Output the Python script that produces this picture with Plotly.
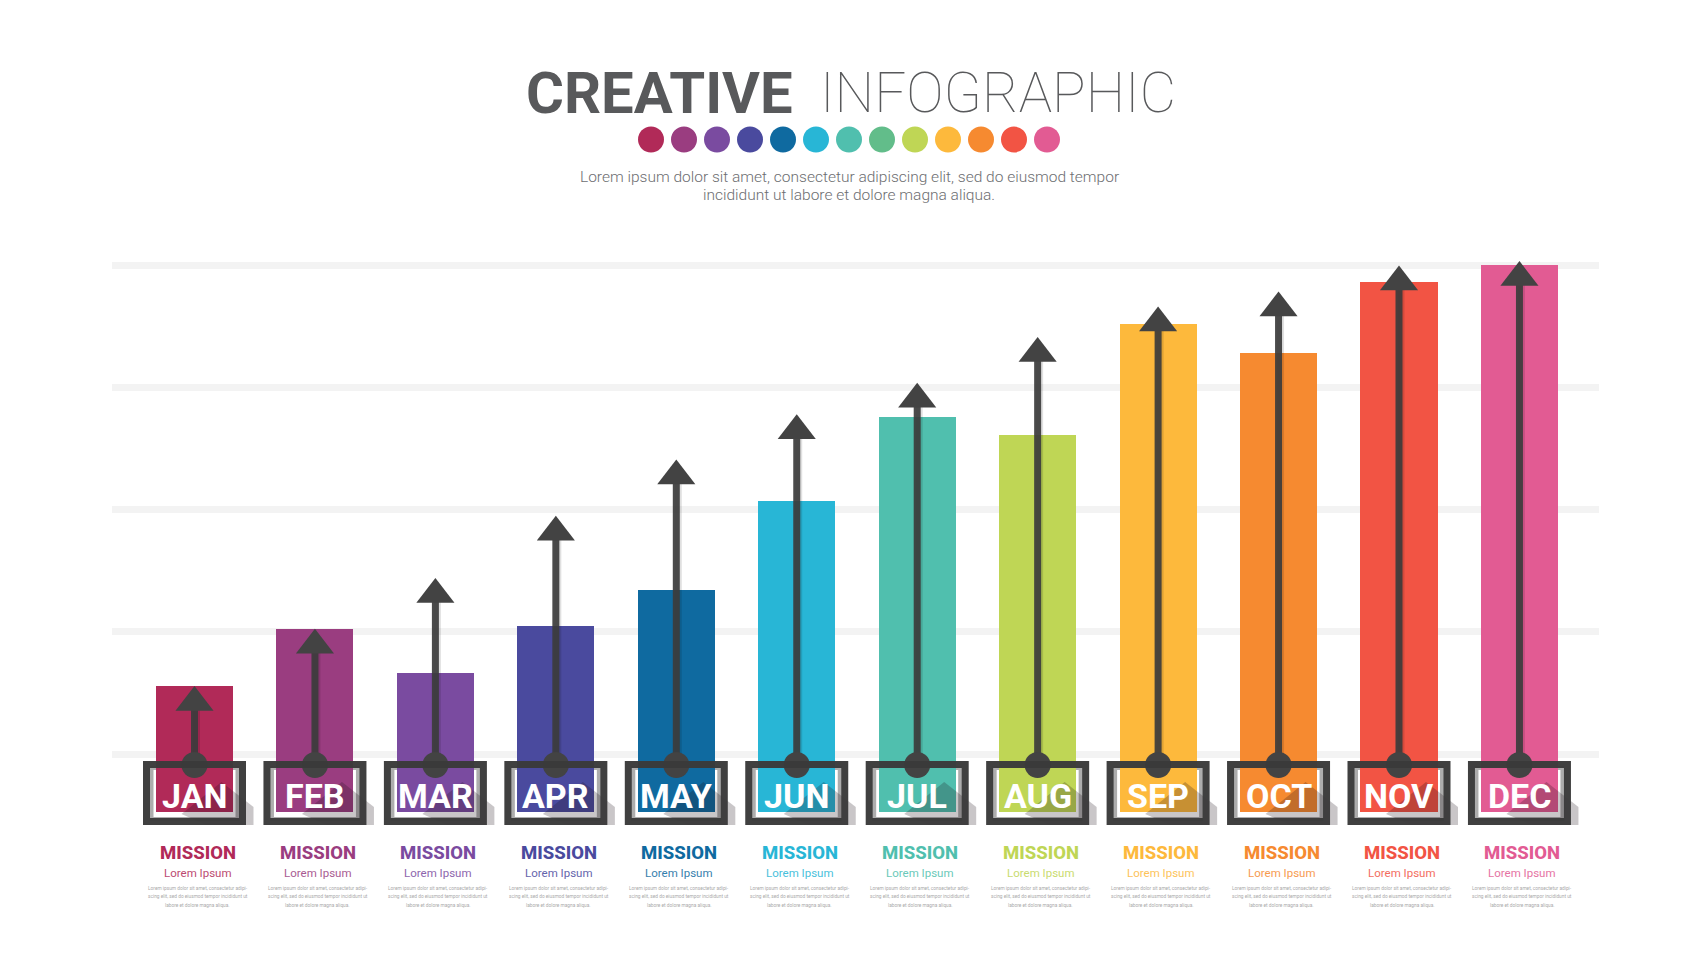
import plotly.graph_objects as go

months = ['JAN', 'FEB', 'MAR', 'APR', 'MAY', 'JUN', 'JUL', 'AUG', 'SEP', 'OCT', 'NOV', 'DEC']
bar_values = [13.9, 25.6, 16.6, 26.1, 33.6, 51.8, 69.0, 65.3, 87.9, 82.1, 96.5, 100.1]
arrow_tips = [13.9, 25.6, 36.0, 48.7, 60.2, 69.5, 75.9, 85.3, 91.5, 94.6, 99.9, 100.8]
bar_colors = ['#b12a58', '#9a3d80', '#7a4ba0', '#4a4a9e', '#0f6aa0', '#28b6d6',
              '#50bfae', '#bfd655', '#fdb93c', '#f68a30', '#f25444', '#e25b93']
dot_colors = ['#b12a58', '#9a3d80', '#7a4ba0', '#4a4a9e', '#0f6aa0', '#28b6d6', '#50bfae',
              '#62bd8a', '#bfd655', '#fdb93c', '#f68a30', '#f25444', '#e25b93']
grid_values = [0, 25, 50, 75, 100]
small_lines = ['Lorem ipsum dolor sit amet, consectetur adipi-',
               'scing elit, sed do eiusmod tempor incididunt ut',
               'labore et dolore magna aliqua.']

# the page has an 8px body margin, so the figure is 8px smaller and everything below
# is given in page pixels
PAGE = 8
W, H = 1700 - PAGE, 980 - PAGE
LEFT, RIGHT, TOP, BOTTOM = 112, 1599, 240, 830   # plot area in page pixels
PX_PER_X = 120.45
PX_PER_Y = 4.89
X0 = 194.5   # page pixel of JAN
Y0 = 754   # page pixel of value 0
BASE = -11.9


def px(p):
    return (p - LEFT) / (RIGHT - LEFT)


def py(p):
    return 1 - (p - TOP) / (BOTTOM - TOP)


def yval(p):
    return (Y0 - p) / PX_PER_Y


def label(text, cx, cy, size, color, weight=400, xanchor='center', **kw):
    return dict(x=px(cx), y=py(cy), xref='paper', yref='paper', text=text, showarrow=False,
                xanchor=xanchor, yanchor='middle',
                font=dict(family='Roboto', size=size, weight=weight, color=color), **kw)


x = list(range(12))
fig = go.Figure()

fig.add_bar(x=x, y=[v - BASE for v in bar_values], base=BASE, width=0.64,
            marker=dict(color=bar_colors, line_width=0))

# arrow stems, faint shadow first
stem_top = [t - 24 / PX_PER_Y for t in arrow_tips]
for i in x:
    fig.add_scatter(x=[i + 2 / PX_PER_X] * 2, y=[yval(765), stem_top[i]], mode='lines',
                    line=dict(color='rgba(0,0,0,0.12)', width=7))
    fig.add_scatter(x=[i, i], y=[yval(765), stem_top[i]], mode='lines',
                    line=dict(color='rgba(60,60,60,0.92)', width=7))
# heads and dots
fig.add_scatter(x=x, y=[t - 16.5 / PX_PER_Y for t in arrow_tips], mode='markers',
                marker=dict(symbol='triangle-up', size=33, color='#434343'))
fig.add_scatter(x=x, y=[yval(765)] * 12, mode='markers',
                marker=dict(size=26, color='#434343'))

shapes = []
annos = []
for i in x:
    # white box with grey inner frame, under the bars
    shapes.append(dict(type='rect', layer='below', xref='x', yref='y', xsizemode='pixel', ysizemode='pixel',
                       xanchor=i, yanchor=0, x0=-43, x1=43, y0=Y0 - 819, y1=Y0 - 768,
                       fillcolor='white', line=dict(color='#adadad', width=4)))
    # long shadow
    shapes.append(dict(type='path', layer='above', xref='x', yref='y', xsizemode='pixel', ysizemode='pixel',
                       xanchor=i, yanchor=0,
                       path='M 27 %d L 59 %d L 59 %d L 12 %d L -13 %d Z' % (Y0 - 782, Y0 - 807, Y0 - 825, Y0 - 825, Y0 - 814),
                       fillcolor='rgba(30,15,25,0.24)', line_width=0))
    # dark frame
    shapes.append(dict(type='rect', layer='above', xref='x', yref='y', xsizemode='pixel', ysizemode='pixel',
                       xanchor=i, yanchor=0, x0=-48, x1=48, y0=Y0 - 821.5, y1=Y0 - 764.5,
                       line=dict(color='rgba(58,58,58,0.97)', width=7)))
    annos.append(dict(x=i, y=yval(796), xref='x', yref='y', text='<b>%s</b>' % months[i], showarrow=False,
                      xanchor='center', yanchor='middle', font=dict(family='Roboto', size=34, color='white')))
    cx = X0 + i * PX_PER_X + 3
    annos.append(label('MISSION', cx, 853, 18.5, bar_colors[i], weight=800))
    annos.append(label('Lorem Ipsum', cx, 873, 11.5, bar_colors[i], opacity=0.85))
    for line, ly in zip(small_lines, [888, 896.5, 905]):
        annos.append(label(line, cx, ly, 4.8, '#aaaaaa'))

for i, c in enumerate(dot_colors):
    cx = 651 + i * 33.0
    shapes.append(dict(type='circle', xref='paper', yref='paper', x0=px(cx - 13), x1=px(cx + 13),
                       y0=py(152.5), y1=py(126.5), fillcolor=c, line_width=0))

annos.append(label('CREATIVE', 524, 92.5, 58, '#58595b', weight=700, xanchor='left'))
annos.append(label('INFOGRAPHIC', 818, 92.5, 56, '#58595b', weight=100, xanchor='left'))
annos.append(label('Lorem ipsum dolor sit amet, consectetur adipiscing elit, sed do eiusmod tempor',
                   849, 176.5, 15.5, '#6d6e71', weight=300))
annos.append(label('incididunt ut labore et dolore magna aliqua.', 849, 195, 15.5, '#6d6e71', weight=300))

fig.update_layout(
    width=W, height=H, autosize=False,
    margin=dict(l=LEFT - PAGE, r=W - (RIGHT - PAGE), t=TOP - PAGE, b=H - (BOTTOM - PAGE), pad=0),
    paper_bgcolor='white', plot_bgcolor='white', showlegend=False, bargap=0,
    shapes=shapes, annotations=annos,
    xaxis=dict(range=[(LEFT - X0) / PX_PER_X, (RIGHT - X0) / PX_PER_X], visible=False),
    yaxis=dict(range=[yval(BOTTOM), yval(TOP)], tickvals=grid_values, showticklabels=False,
               showgrid=True, gridcolor='#f3f3f3', gridwidth=7, zeroline=False, ticks=''),
)
fig.write_html("out.html")
